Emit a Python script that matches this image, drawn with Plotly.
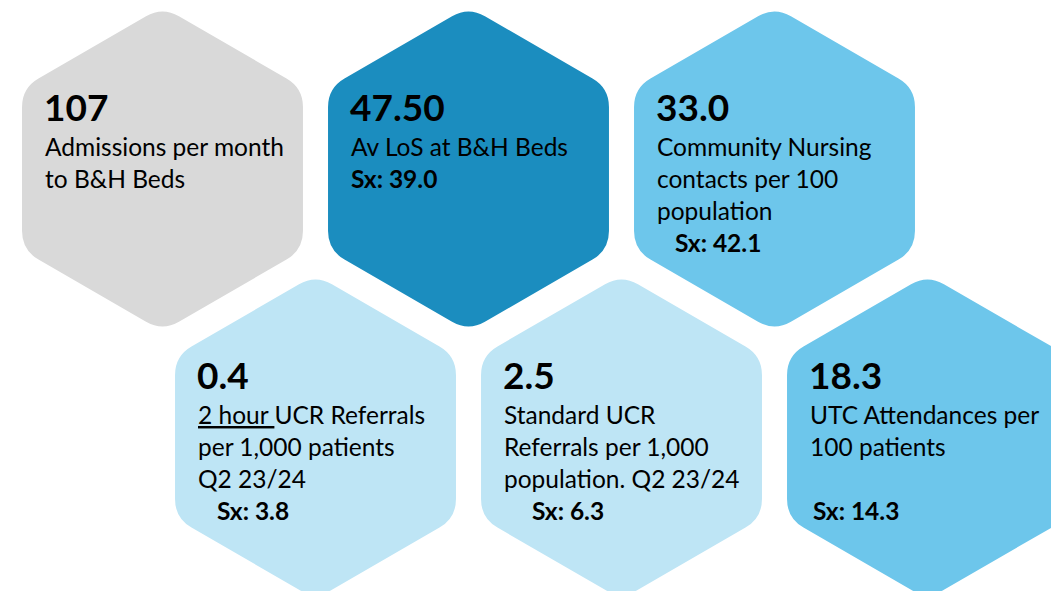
import math
import plotly.graph_objects as go

# ---------------- data ----------------
values = ["107", "47.50", "33.0", "0.4", "2.5", "18.3"]
labels = [
    ["Admissions per month", "to B&H Beds"],
    ["Av LoS at B&H Beds"],
    ["Community Nursing", "contacts per 100", "population"],
    ["<u>2 hour </u>UCR Referrals", "per 1,000 patients", "Q2 23/24"],
    ["Standard UCR", "Referrals per 1,000", "population. Q2 23/24"],
    ["UTC Attendances per", "100 patients"],
]
sx_values = [None, "39.0", "42.1", "3.8", "6.3", "14.3"]

# ---------------- layout / style ----------------
W, H = 1051, 591
grid_row = [0, 0, 0, 1, 1, 1]
grid_col = [0, 1, 2, 0, 1, 2]
sx_slot = [None, 1, 3, 3, 3, 3]
sx_indent = [0, 0, 18, 19, 28, 3]
colors = ["#D9D9D9", "#1B8DBF", "#6DC6EB", "#BEE5F5", "#BEE5F5", "#6DC6EB"]

R = 162.2          # hexagon circumradius (px)
D = 19             # corner rounding distance
x0, dx = 162.5, 306
row_y = [169, 437]
row_xoff = [0, 153]

FONT = "Lato"
VAL_SIZE = 37
TXT_SIZE = 24.5


def hex_path(cx, cy):
    verts = []
    for k in range(6):
        a = math.radians(-90 + 60 * k)
        verts.append((cx + R * math.cos(a), cy + R * math.sin(a)))
    t = D / R
    parts = []
    for k in range(6):
        v = verts[k]
        p = verts[k - 1]
        n = verts[(k + 1) % 6]
        pin = (v[0] + (p[0] - v[0]) * t, v[1] + (p[1] - v[1]) * t)
        pout = (v[0] + (n[0] - v[0]) * t, v[1] + (n[1] - v[1]) * t)
        cmd = "M" if k == 0 else "L"
        parts.append(f"{cmd}{pin[0]:.2f},{pin[1]:.2f}")
        parts.append(f"Q{v[0]:.2f},{v[1]:.2f} {pout[0]:.2f},{pout[1]:.2f}")
    return " ".join(parts) + " Z"


shapes = []
annotations = []
for i in range(len(values)):
    cx = x0 + row_xoff[grid_row[i]] + dx * grid_col[i]
    cy = row_y[grid_row[i]]
    shapes.append(dict(type="path", path=hex_path(cx, cy), xref="x", yref="y",
                       fillcolor=colors[i], line=dict(width=0), layer="below"))
    left = cx - R * math.sqrt(3) / 2 + 21
    vy = cy - 63
    annotations.append(dict(x=left - 1, y=vy, text=f"<b>{values[i]}</b>", xref="x", yref="y",
                            xanchor="left", yanchor="middle", showarrow=False,
                            font=dict(family=FONT, size=VAL_SIZE, color="#000000")))
    for j, line in enumerate(labels[i]):
        annotations.append(dict(x=left, y=vy + 40 + 32 * j, text=line, xref="x", yref="y",
                                xanchor="left", yanchor="middle", showarrow=False,
                                font=dict(family=FONT, size=TXT_SIZE, color="#000000")))
    if sx_values[i] is not None:
        annotations.append(dict(x=left + sx_indent[i], y=vy + 40 + 32 * sx_slot[i],
                                text=f"<b>Sx: {sx_values[i]}</b>", xref="x", yref="y",
                                xanchor="left", yanchor="middle", showarrow=False,
                                font=dict(family=FONT, size=TXT_SIZE, color="#000000")))

fig = go.Figure()
fig.add_trace(go.Scatter(x=[0, W], y=[0, H], mode="markers", marker=dict(opacity=0),
                         hoverinfo="skip", showlegend=False))
fig.update_layout(
    width=W, height=H, margin=dict(l=0, r=0, t=0, b=0),
    paper_bgcolor="white", plot_bgcolor="white",
    xaxis=dict(range=[0, W], visible=False, fixedrange=True),
    yaxis=dict(range=[H, 0], visible=False, fixedrange=True),
    shapes=shapes, annotations=annotations, showlegend=False,
)
fig.write_html(
    "out.html",
    config={"displayModeBar": False},
    post_script="document.body.style.margin='0';document.body.style.overflow='hidden';",
)
